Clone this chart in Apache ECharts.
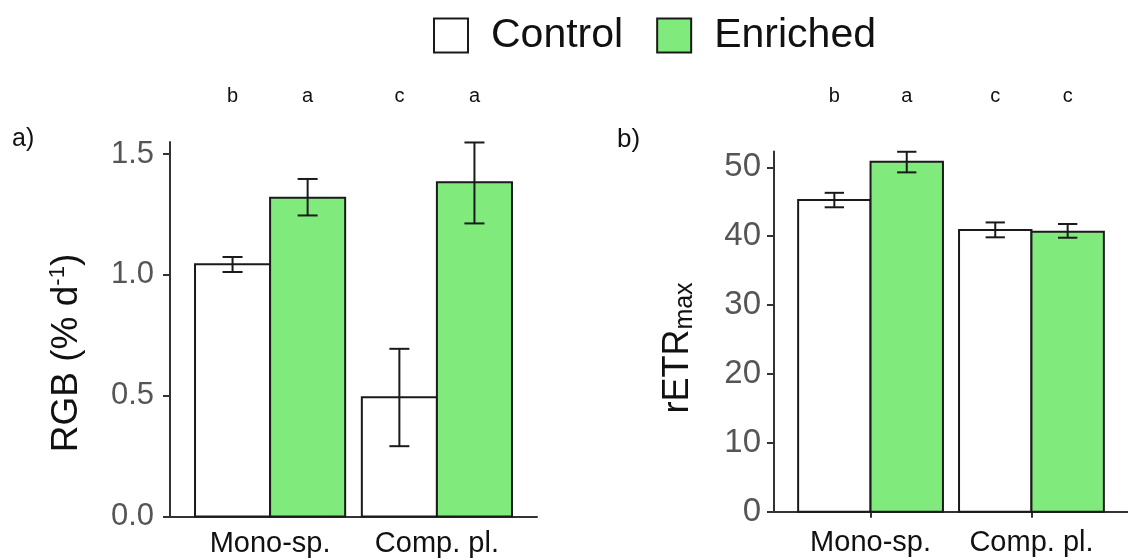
<!DOCTYPE html>
<html>
<head>
<meta charset="utf-8">
<script src="https://cdn.jsdelivr.net/npm/echarts@6/dist/echarts.min.js"></script>
<style>
  html, body { margin: 0; padding: 0; background: #fff; }
  #chart { width: 1128px; height: 560px; }
</style>
</head>
<body>
<div id="chart"></div>
<script>
// Groups along the x axis and the two treatments
const categories = ['Mono-sp.', 'Comp. pl.'];
const treatments = ['Control', 'Enriched'];

// a) RGB (% d-1): means and error-bar limits per group
const rgbControl = [1.044, 0.494];
const rgbControlLow = [1.012, 0.291];
const rgbControlHigh = [1.074, 0.694];
const rgbEnriched = [1.319, 1.383];
const rgbEnrichedLow = [1.246, 1.213];
const rgbEnrichedHigh = [1.397, 1.548];
const rgbLettersControl = ['b', 'c'];
const rgbLettersEnriched = ['a', 'a'];
const rgbTicks = [0, 0.5, 1.0, 1.5];

// b) rETRmax: means and error-bar limits per group
const etrControl = [45.25, 40.9];
const etrControlLow = [44.2, 39.84];
const etrControlHigh = [46.3, 42.0];
const etrEnriched = [50.81, 40.65];
const etrEnrichedLow = [49.27, 39.78];
const etrEnrichedHigh = [52.26, 41.77];
const etrLettersControl = ['b', 'c'];
const etrLettersEnriched = ['a', 'c'];
const etrTicks = [0, 10, 20, 30, 40, 50];

const FONT = "'Liberation Sans', Arial, Helvetica, sans-serif";
const GREEN = '#80EB7C';
const INK = '#1a1a1a';
const BAR_HALF = 0.225;   // half of one dodged bar, in category units
const CAP_HALF = 0.06;    // half width of an error-bar cap

const fills = { Control: '#ffffff', Enriched: GREEN };
const dodge = { Control: -BAR_HALF, Enriched: BAR_HALF };

function barSeries(name, values, gridIndex) {
  return {
    type: 'custom',
    name: name,
    xAxisIndex: gridIndex,
    yAxisIndex: gridIndex,
    data: values.map((v, i) => [i + 1, v]),
    renderItem: function (params, api) {
      const xc = api.value(0) + dodge[name];
      const p1 = api.coord([xc - BAR_HALF, api.value(1)]);
      const p2 = api.coord([xc + BAR_HALF, 0]);
      return {
        type: 'rect',
        shape: { x: p1[0], y: p1[1], width: p2[0] - p1[0], height: p2[1] - p1[1] },
        style: { fill: fills[name], stroke: INK, lineWidth: 2 }
      };
    },
    z: 2
  };
}

function errorSeries(name, low, high, gridIndex) {
  return {
    type: 'custom',
    name: name,
    xAxisIndex: gridIndex,
    yAxisIndex: gridIndex,
    data: low.map((v, i) => [i + 1, v, high[i]]),
    renderItem: function (params, api) {
      const xc = api.value(0) + dodge[name];
      const lo = api.coord([xc, api.value(1)]);
      const hi = api.coord([xc, api.value(2)]);
      const capL = api.coord([xc - CAP_HALF, 0])[0];
      const capR = api.coord([xc + CAP_HALF, 0])[0];
      const st = { stroke: INK, lineWidth: 2 };
      return {
        type: 'group',
        children: [
          { type: 'line', shape: { x1: lo[0], y1: lo[1], x2: hi[0], y2: hi[1] }, style: st },
          { type: 'line', shape: { x1: capL, y1: lo[1], x2: capR, y2: lo[1] }, style: st },
          { type: 'line', shape: { x1: capL, y1: hi[1], x2: capR, y2: hi[1] }, style: st }
        ]
      };
    },
    z: 3
  };
}

function letterSeries(name, letters, gridIndex) {
  return {
    type: 'custom',
    name: name,
    xAxisIndex: gridIndex,
    yAxisIndex: gridIndex,
    data: letters.map((t, i) => [i + 1, 0, t]),
    renderItem: function (params, api) {
      const xc = api.value(0) + dodge[name];
      const p = api.coord([xc, 0]);
      return {
        type: 'text',
        x: p[0],
        y: 96,
        style: {
          text: letters[params.dataIndex],
          font: '20px ' + FONT,
          fill: '#111',
          align: 'center',
          verticalAlign: 'middle'
        }
      };
    },
    silent: true,
    z: 4
  };
}

function xAxis(gridIndex, showTicks, labelMargin) {
  return {
    type: 'value',
    gridIndex: gridIndex,
    min: 0.4,
    max: 2.6,
    splitLine: { show: false },
    axisLine: { show: true, onZero: false, lineStyle: { color: '#333', width: 2 } },
    axisTick: { show: showTicks, customValues: [1, 2], length: 6, lineStyle: { color: '#333', width: 2 } },
    axisLabel: {
      customValues: [1, 2],
      formatter: v => categories[Math.round(v) - 1],
      margin: labelMargin,
      color: '#111',
      fontSize: 29,
      fontFamily: FONT
    }
  };
}

function yAxis(gridIndex, max, ticks, labelMargin, fontSize, fmt) {
  return {
    type: 'value',
    gridIndex: gridIndex,
    min: 0,
    max: max,
    splitLine: { show: false },
    axisLine: { show: true, lineStyle: { color: '#333', width: 2 } },
    axisTick: { show: true, customValues: ticks, length: 7, lineStyle: { color: '#333', width: 2 } },
    axisLabel: {
      customValues: ticks,
      formatter: fmt,
      margin: labelMargin,
      color: '#555',
      fontSize: fontSize,
      fontFamily: FONT
    }
  };
}

const chart = echarts.init(document.getElementById('chart'), null, { renderer: 'canvas' });

chart.setOption({
  backgroundColor: '#ffffff',
  animation: false,
  legend: {
    left: 428,
    top: 10,
    itemWidth: 34,
    itemHeight: 34,
    itemGap: 33,
    icon: 'rect',
    selectedMode: false,
    data: [
      { name: 'Control', itemStyle: { color: '#ffffff', borderColor: INK, borderWidth: 2 } },
      { name: 'Enriched', itemStyle: { color: GREEN, borderColor: INK, borderWidth: 2 } }
    ],
    textStyle: { fontSize: 41, fontFamily: FONT, color: '#111', padding: [0, 0, 0, 18] }
  },
  grid: [
    { left: 170, top: 142, width: 367, height: 374.5 },
    { left: 774, top: 151.5, width: 363, height: 360.2 }
  ],
  xAxis: [xAxis(0, false, 13), xAxis(1, true, 17)],
  yAxis: [
    yAxis(0, 1.55, rgbTicks, 16, 31, v => v.toFixed(1)),
    yAxis(1, 52.3, etrTicks, 13, 33, v => String(Math.round(v)))
  ],
  graphic: [
    { type: 'text', left: 12, top: 127, style: { text: 'a)', font: '25px ' + FONT, fill: '#111' } },
    { type: 'text', left: 617, top: 127, style: { text: 'b)', font: '26px ' + FONT, fill: '#111' } },
    {
      type: 'text', x: 67, y: 353, rotation: Math.PI / 2,
      style: {
        text: '{m|RGB (% d}{s|-1}{m|)}',
        align: 'center', verticalAlign: 'middle',
        rich: {
          m: { fontSize: 37, fontFamily: FONT, fill: '#111', lineHeight: 41 },
          s: { fontSize: 22, fontFamily: FONT, fill: '#111', lineHeight: 22, verticalAlign: 'top' }
        }
      }
    },
    {
      type: 'text', x: 678, y: 348, rotation: Math.PI / 2,
      style: {
        text: '{m|rETR}{s|max}',
        align: 'center', verticalAlign: 'middle',
        rich: {
          m: { fontSize: 36, fontFamily: FONT, fill: '#111', lineHeight: 40 },
          s: { fontSize: 25, fontFamily: FONT, fill: '#111', lineHeight: 25, verticalAlign: 'bottom' }
        }
      }
    }
  ],
  series: [
    barSeries('Control', rgbControl, 0),
    barSeries('Enriched', rgbEnriched, 0),
    errorSeries('Control', rgbControlLow, rgbControlHigh, 0),
    errorSeries('Enriched', rgbEnrichedLow, rgbEnrichedHigh, 0),
    letterSeries('Control', rgbLettersControl, 0),
    letterSeries('Enriched', rgbLettersEnriched, 0),
    barSeries('Control', etrControl, 1),
    barSeries('Enriched', etrEnriched, 1),
    errorSeries('Control', etrControlLow, etrControlHigh, 1),
    errorSeries('Enriched', etrEnrichedLow, etrEnrichedHigh, 1),
    letterSeries('Control', etrLettersControl, 1),
    letterSeries('Enriched', etrLettersEnriched, 1)
  ]
});
</script>
</body>
</html>
